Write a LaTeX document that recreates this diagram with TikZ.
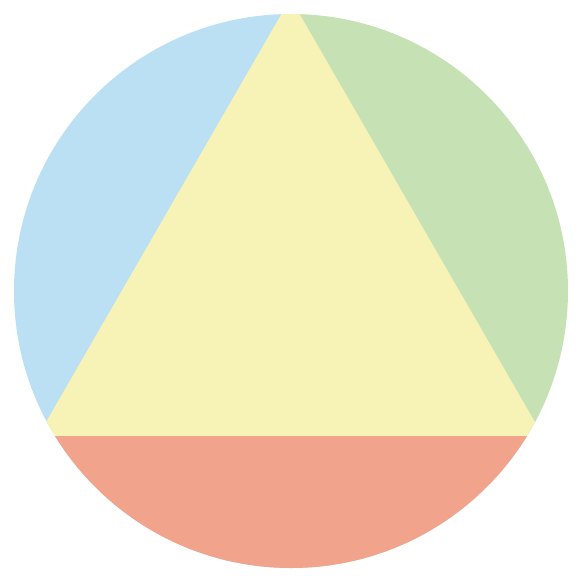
\documentclass[tikz,border=0pt]{standalone}
\usepackage{tikz}
\usepackage{xcolor}

\definecolor{skyblue}{RGB}{187,223,243}
\definecolor{leafgreen}{RGB}{198,226,181}
\definecolor{paleyellow}{RGB}{247,243,183}
\definecolor{salmonred}{RGB}{242,163,140}

\begin{document}
\begin{tikzpicture}[x=0.1mm, y=-0.1mm]
  \useasboundingbox (0,0) rectangle (582,582);

  %% Everything is cut to the disc
  \begin{scope}
    \clip (291,291) circle (277);

    %% Left and right halves
    \fill[skyblue]   (0,0) rectangle (291,582);
    \fill[leafgreen] (291,0) rectangle (582,582);

    %% Triangle (apex just above the disc)
    \fill[paleyellow] (290.5,-1.7) -- (543,436) -- (38,436) -- cycle;

    %% Bottom segment
    \fill[salmonred] (0,436) rectangle (582,582);
  \end{scope}
\end{tikzpicture}
\end{document}
